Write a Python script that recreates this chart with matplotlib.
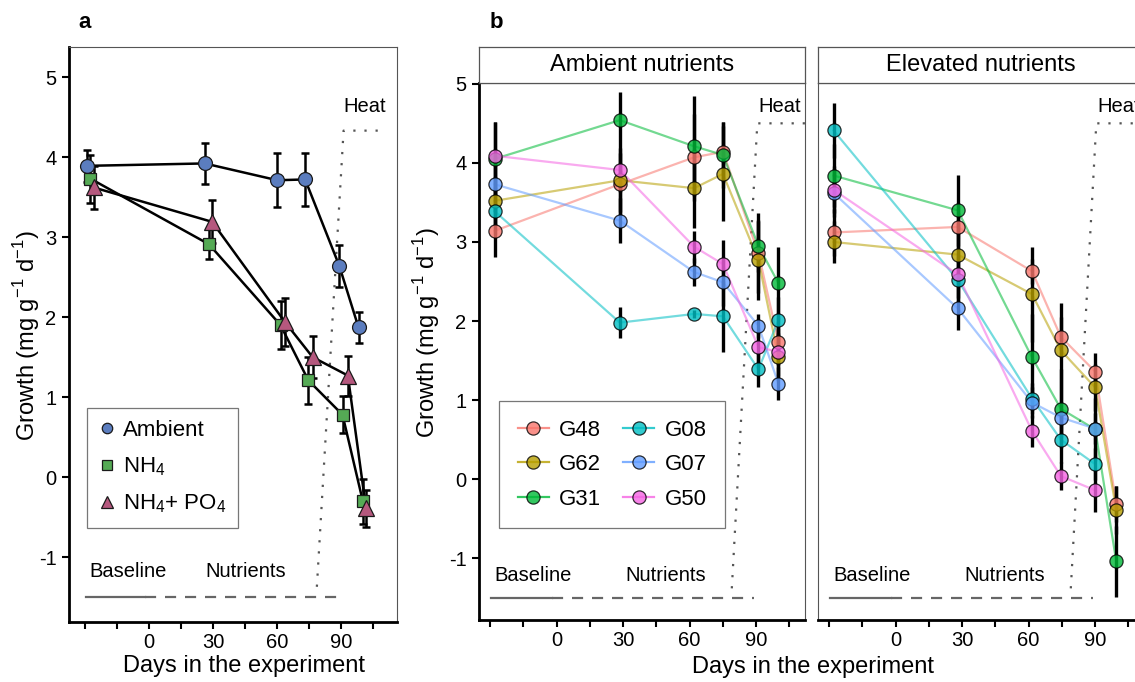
import matplotlib
matplotlib.use("Agg")
import matplotlib.pyplot as plt
import numpy as np

plt.rcParams['font.family'] = ['Liberation Sans', 'DejaVu Sans']
plt.rcParams['mathtext.fontset'] = 'custom'
plt.rcParams['mathtext.rm'] = 'Liberation Sans'
plt.rcParams['axes.unicode_minus'] = False

# ---- panel a data ----
days_amb = [-29, 26, 60, 73, 89, 98]
amb = [3.89, 3.92, 3.71, 3.72, 2.64, 1.87]
amb_se = [0.2, 0.26, 0.34, 0.33, 0.26, 0.19]

days_nh4 = [-27.5, 28, 61.5, 74.5, 90.5, 100]
nh4 = [3.73, 2.91, 1.90, 1.21, 0.78, -0.30]
nh4_se = [0.3, 0.19, 0.3, 0.29, 0.23, 0.28]

days_np = [-26, 29.5, 63.5, 76.5, 93, 101.5]
nhpo = [3.62, 3.19, 1.94, 1.50, 1.27, -0.39]
nhpo_se = [0.27, 0.27, 0.3, 0.26, 0.25, 0.23]

# ---- panel b data ----
genos = ['G48', 'G62', 'G31', 'G08', 'G07', 'G50']
geno_cols = ['#F8766D', '#B79F00', '#00BA38', '#00BFC4', '#619CFF', '#F564E3']

days_ambN = [-28, 28.5, 62, 75, 91, 100]
ambN = {
    'G48': [3.14, 3.73, 4.07, 4.14, 2.86, 1.74],
    'G62': [3.52, 3.78, 3.68, 3.86, 2.77, 1.55],
    'G31': [4.05, 4.54, 4.21, 4.10, 2.95, 2.48],
    'G08': [3.39, 1.98, 2.09, 2.06, 1.39, 2.01],
    'G07': [3.73, 3.27, 2.62, 2.49, 1.94, 1.21],
    'G50': [4.09, 3.91, 2.94, 2.72, 1.67, 1.61],
}
ambN_se = {
    'G48': [0.33, 0.4, 0.55, 0.38, 0.5, 0.3],
    'G62': [0.3, 0.4, 0.5, 0.6, 0.5, 0.3],
    'G31': [0.47, 0.36, 0.63, 0.42, 0.33, 0.46],
    'G08': [0.3, 0.2, 0.05, 0.45, 0.22, 0.3],
    'G07': [0.35, 0.28, 0.18, 0.3, 0.15, 0.21],
    'G50': [0.43, 0.28, 0.2, 0.3, 0.2, 0.3],
}

days_elvN = [-28, 28, 61.5, 74.5, 90, 99.5]
elvN = {
    'G48': [3.12, 3.19, 2.63, 1.80, 1.36, -0.31],
    'G62': [3.00, 2.84, 2.34, 1.63, 1.16, -0.39],
    'G31': [3.84, 3.40, 1.54, 0.89, 0.63, -1.04],
    'G08': [4.41, 2.52, 1.02, 0.50, 0.19, np.nan],
    'G07': [3.62, 2.16, 0.97, 0.78, 0.64, np.nan],
    'G50': [3.66, 2.59, 0.61, 0.04, -0.14, np.nan],
}
elvN_se = {
    'G48': [0.3, 0.3, 0.16, 0.25, 0.23, 0.23],
    'G62': [0.27, 0.4, 0.6, 0.6, 0.3, 0.3],
    'G31': [0.4, 0.45, 0.55, 0.5, 0.4, 0.45],
    'G08': [0.35, 0.3, 0.2, 0.3, 0.2, np.nan],
    'G07': [0.3, 0.27, 0.2, 0.25, 0.2, np.nan],
    'G50': [0.3, 0.3, 0.2, 0.18, 0.27, np.nan],
}

W, H = 1135, 682
fig = plt.figure(figsize=(W / 100, H / 100), dpi=100)

TICK_FS = 14.5
LAB_FS = 17
ANN_FS = 14.5


def px_axes(l, t, r, b):
    return fig.add_axes([l / W, 1 - b / H, (r - l) / W, (b - t) / H])


def style(ax, ylabels=True, leftline=True):
    for s in ax.spines.values():
        s.set_color('#555555')
        s.set_linewidth(0.8)
    ax.spines['bottom'].set_color('black')
    ax.spines['bottom'].set_linewidth(2)
    if leftline:
        ax.spines['left'].set_color('black')
        ax.spines['left'].set_linewidth(2)
    xt = np.arange(-30, 106, 15)
    ax.set_xticks(xt)
    ax.set_xticklabels([str(v) if (v >= 0 and v % 30 == 0) else '' for v in xt])
    ax.tick_params(axis='x', length=5, width=1.5, labelsize=TICK_FS, pad=3)
    if ylabels:
        ax.set_yticks([-1, 0, 1, 2, 3, 4, 5])
        ax.tick_params(axis='y', length=5, width=1.5, labelsize=TICK_FS, pad=4)
    else:
        ax.set_yticks([])


def phases(ax, heat_x, heat_y, heat_pos, nut_x, txt_y):
    ax.plot([-29.5, -2], [-1.5, -1.5], color='#666666', lw=1.6, zorder=1)
    ax.plot([-2, heat_x[0] + 10], [-1.5, -1.5], color='#666666', lw=1.6,
            dashes=(5, 4), zorder=1)
    ax.plot(heat_x, heat_y, color='#555555', lw=1.6, ls=(0, (1, 4)), zorder=1)
    ax.text(-28, txt_y, 'Baseline', fontsize=ANN_FS, ha='left', va='center')
    ax.text(nut_x, txt_y, 'Nutrients', fontsize=ANN_FS, ha='center', va='center')
    ax.text(heat_pos[0], heat_pos[1], 'Heat', fontsize=ANN_FS, ha='left', va='center')


# ---------------- panel a ----------------
ax = px_axes(69, 47, 397, 622)
style(ax)
ax.set_xlim(-37.5, 116)
ax.set_ylim(-1.81, 5.375)
phases(ax, [78.5, 91, 109], [-1.37, 4.33, 4.33], (91, 4.63), 45, -1.18)

ekw = dict(ecolor='black', elinewidth=1.8, capsize=3, capthick=1.8, zorder=3)
ax.errorbar(days_amb, amb, yerr=amb_se, fmt='none', **ekw)
ax.errorbar(days_nh4, nh4, yerr=nh4_se, fmt='none', **ekw)
ax.errorbar(days_np, nhpo, yerr=nhpo_se, fmt='none', **ekw)
ax.plot(days_amb, amb, color='black', lw=1.8, zorder=2)
ax.plot(days_nh4, nh4, color='black', lw=1.8, zorder=2)
ax.plot(days_np, nhpo, color='black', lw=1.8, zorder=2)
h1, = ax.plot(days_amb, amb, 'o', ms=10, mfc='#5B7DBF', mec='#1a1a1a', mew=0.9,
              ls='none', zorder=4, label='Ambient')
h2, = ax.plot(days_nh4, nh4, 's', ms=9, mfc='#55AA55', mec='#1a1a1a', mew=0.9,
              ls='none', zorder=4, label=r'NH$_{\mathregular{4}}$')
h3, = ax.plot(days_np, nhpo, '^', ms=11, mfc='#B5587E', mec='#1a1a1a', mew=0.9,
              ls='none', zorder=5, label=r'NH$_{\mathregular{4}}$+ PO$_{\mathregular{4}}$')
leg = ax.legend(handles=[h1, h2, h3], loc='upper left',
                bbox_to_anchor=((87 - 69) / 328, (622 - 408) / 575), borderaxespad=0,
                fontsize=16, frameon=True, fancybox=False, handlelength=0.7,
                handletextpad=0.35, borderpad=0.55, labelspacing=0.65,
                markerscale=0.75)
leg.get_frame().set_edgecolor('#555555')
leg.get_frame().set_linewidth(0.9)

fig.text(78 / W, 1 - 22 / H, 'a', fontsize=16, fontweight='bold', ha='left', va='center')
fig.text(27 / W, 1 - 336 / H, r'Growth (mg g$^{\mathregular{-1}}$ d$^{\mathregular{-1}}$)',
         rotation=90, fontsize=LAB_FS, ha='center', va='center')
fig.text(244 / W, 1 - 666 / H, 'Days in the experiment', fontsize=LAB_FS,
         ha='center', va='center')

# ---------------- panel b ----------------
facets = [('Ambient nutrients', days_ambN, ambN, ambN_se, 479),
          ('Elevated nutrients', days_elvN, elvN, elvN_se, 818)]
for k, (title, dd, vals, errs, left) in enumerate(facets):
    right = left + 326
    ax = px_axes(left, 83, right, 620)
    style(ax, ylabels=(k == 0), leftline=(k == 0))
    ax.set_xlim(-35, 112)
    ax.set_ylim(-1.78, 5.01)
    phases(ax, [79, 90.5, 120], [-1.38, 4.5, 4.5], (91, 4.71), 49, -1.22)
    handles = []
    for g, c in zip(genos, geno_cols):
        ax.errorbar(dd, vals[g], yerr=errs[g], fmt='none', ecolor='black',
                    elinewidth=2.4, capsize=0, zorder=3)
        ax.plot(dd, vals[g], color=c, lw=1.6, alpha=0.55, zorder=2)
    for g, c in zip(genos, geno_cols):
        ax.plot(dd, vals[g], 'o', ms=9.5, mfc=c, mec='black', mew=0.9, alpha=0.8,
                ls='none', zorder=4)
        handles.append(plt.Line2D([], [], color=c, lw=1.6, marker='o', ms=9.5,
                                  mfc=c, mec='black', mew=0.9, alpha=0.8))
    if k == 0:
        lg = ax.legend(handles, genos, ncol=2, loc='upper left',
                       bbox_to_anchor=((499 - 479) / 326, (620 - 401) / 537),
                       borderaxespad=0, fontsize=16, frameon=True, fancybox=False,
                       handlelength=1.4, handletextpad=0.45, columnspacing=1.0,
                       borderpad=0.85, labelspacing=0.6)
        lg.get_frame().set_edgecolor('#555555')
        lg.get_frame().set_linewidth(0.9)
    st = px_axes(left, 47, right, 83)
    st.set_xticks([])
    st.set_yticks([])
    for s in st.spines.values():
        s.set_color('#555555')
        s.set_linewidth(0.9)
    st.text(0.5, 0.5, title, fontsize=LAB_FS, ha='center', va='center',
            transform=st.transAxes)

fig.text(490 / W, 1 - 22 / H, 'b', fontsize=16, fontweight='bold', ha='left', va='center')
fig.text(427 / W, 1 - 333 / H, r'Growth (mg g$^{\mathregular{-1}}$ d$^{\mathregular{-1}}$)',
         rotation=90, fontsize=LAB_FS, ha='center', va='center')
fig.text(813 / W, 1 - 667 / H, 'Days in the experiment', fontsize=LAB_FS,
         ha='center', va='center')

fig.savefig('out.png', dpi=100)
